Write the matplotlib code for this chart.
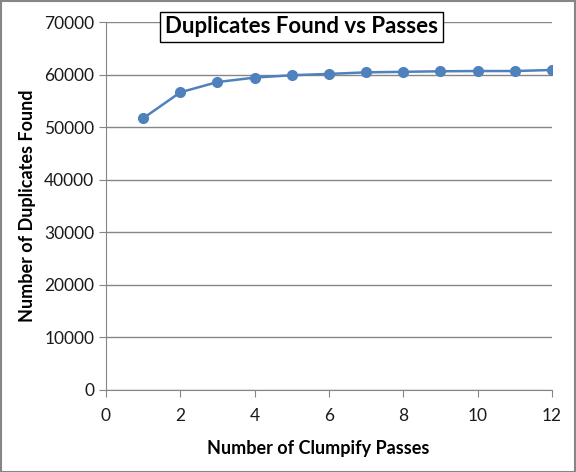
import matplotlib
matplotlib.use('Agg')
from matplotlib import pyplot as plt
from matplotlib.patches import Rectangle

passes = [1, 2, 3, 4, 5, 6, 7, 8, 9, 10, 11, 12]
duplicates = [51700, 56650, 58600, 59450, 59900, 60150, 60450, 60550, 60650, 60700, 60700, 60900]
x_ticks = [0, 2, 4, 6, 8, 10, 12]
y_ticks = [0, 10000, 20000, 30000, 40000, 50000, 60000, 70000]

plt.rcParams['font.family'] = ['Lato', 'DejaVu Sans']
fig = plt.figure(figsize=(5.76, 4.72), dpi=100)
ax = fig.add_axes([0.184, 0.174, 0.774, 0.779])

grey = '#868686'
ax.plot(passes, duplicates, color='#4F81BD', linewidth=1.8, marker='o', markersize=7,
        markeredgecolor='#4F81BD', zorder=3)
ax.set_xlim(0, 12)
ax.set_ylim(0, 70000)
ax.set_xticks(x_ticks)
ax.set_yticks(y_ticks)
ax.grid(axis='y', color=grey, linewidth=1)
ax.set_axisbelow(True)
for side in ['top', 'right']:
    ax.spines[side].set_visible(False)
for side in ['left', 'bottom']:
    ax.spines[side].set_color(grey)
ax.tick_params(axis='both', colors=grey, labelcolor='#1a1a1a', labelsize=12.5, length=5, direction='out')
ax.tick_params(axis='x', pad=8)
ax.set_xlabel('Number of Clumpify Passes', fontsize=13, fontweight='bold', labelpad=12)
ax.xaxis.set_label_coords(0.475, -0.135)
ax.set_ylabel('Number of Duplicates Found', fontsize=13, fontweight='bold', labelpad=6)

fig.text(0.523, 0.943, 'Duplicates Found vs Passes', fontsize=16, fontweight='bold',
         ha='center', va='center',
         bbox=dict(boxstyle='square,pad=0.22', facecolor='white', edgecolor='black', linewidth=1))

fig.patches.append(Rectangle((0.001, 0.001), 0.997, 0.997, transform=fig.transFigure,
                             fill=False, edgecolor=grey, linewidth=1.5))
fig.savefig('out.png', dpi=100)
